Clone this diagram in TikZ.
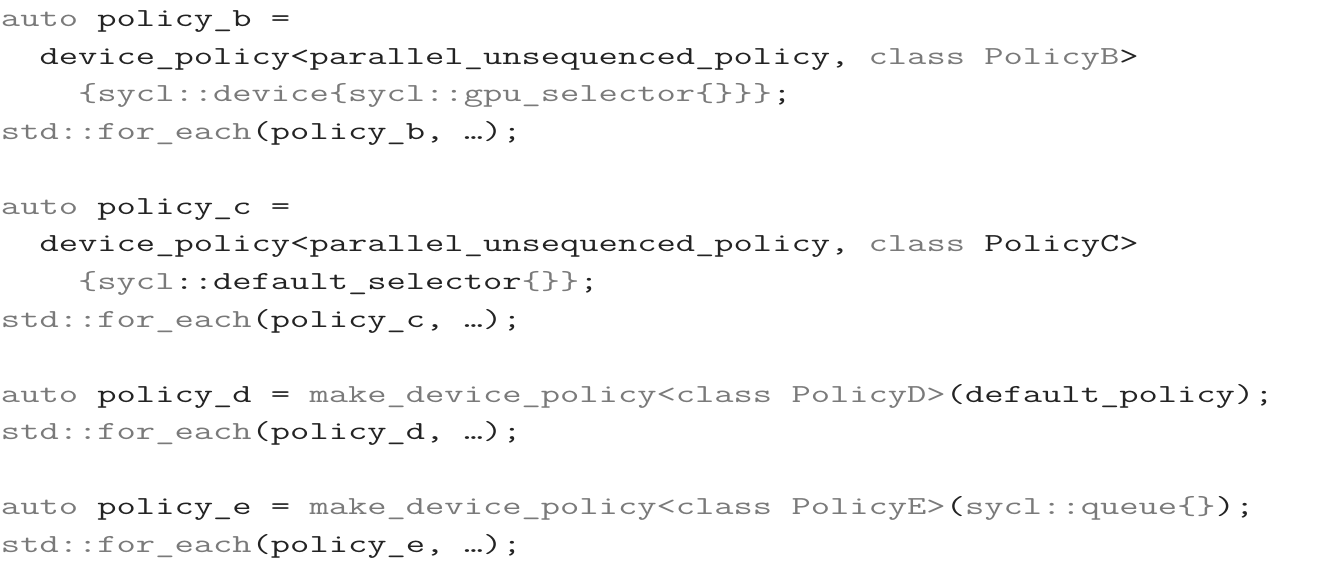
\documentclass[tikz,border=0pt]{standalone}
\usepackage{fontspec}
\setmonofont[FakeStretch=1.44]{Latin Modern Mono}
\definecolor{kw}{RGB}{122,122,122}
\definecolor{tx}{RGB}{35,35,35}
\newcommand\gk[1]{\textcolor{kw}{#1}}
\tikzset{codeline/.style={anchor=base west, inner sep=0pt, outer sep=0pt, font=\fontsize{26}{30}\selectfont\ttfamily, text=tx}}
\begin{document}
\begin{tikzpicture}[x=1pt,y=1pt]
\useasboundingbox[fill=white] (0,0) rectangle (1321,575);
\def\lh{37.57}
\def\top{548.5}
\node[codeline] (l0) at (1,\top-0*\lh) {\gk{auto} policy\_b =};
\node[codeline] (l1) at (1,\top-1*\lh) {\phantom{xx}device\_policy<parallel\_unsequenced\_policy, \gk{class PolicyB}>};
\node[codeline] (l2) at (1,\top-2*\lh) {\phantom{xxxx}\gk{\{sycl::device\{sycl::gpu\_selector\{\}\}\}};};
\node[codeline] (l3) at (1,\top-3*\lh) {\gk{std::for\_each}(policy\_b, …);};
\node[codeline] (l5) at (1,\top-5*\lh) {\gk{auto} policy\_c =};
\node[codeline] (l6) at (1,\top-6*\lh) {\phantom{xx}device\_policy<parallel\_unsequenced\_policy, \gk{class} PolicyC>};
\node[codeline] (l7) at (1,\top-7*\lh) {\phantom{xxxx}\gk{\{sycl}::default\_selector\gk{\{\}\}};};
\node[codeline] (l8) at (1,\top-8*\lh) {\gk{std::for\_each}(policy\_c, …);};
\node[codeline] (l10) at (1,\top-10*\lh) {\gk{auto} policy\_d = \gk{make\_device\_policy<class PolicyD>}(default\_policy);};
\node[codeline] (l11) at (1,\top-11*\lh) {\gk{std::for\_each}(policy\_d, …);};
\node[codeline] (l13) at (1,\top-13*\lh) {\gk{auto} policy\_e = \gk{make\_device\_policy<class PolicyE>}(\gk{sycl::queue\{\}});};
\node[codeline] (l14) at (1,\top-14*\lh) {\gk{std::for\_each}(policy\_e, …);};
\end{tikzpicture}
\end{document}
